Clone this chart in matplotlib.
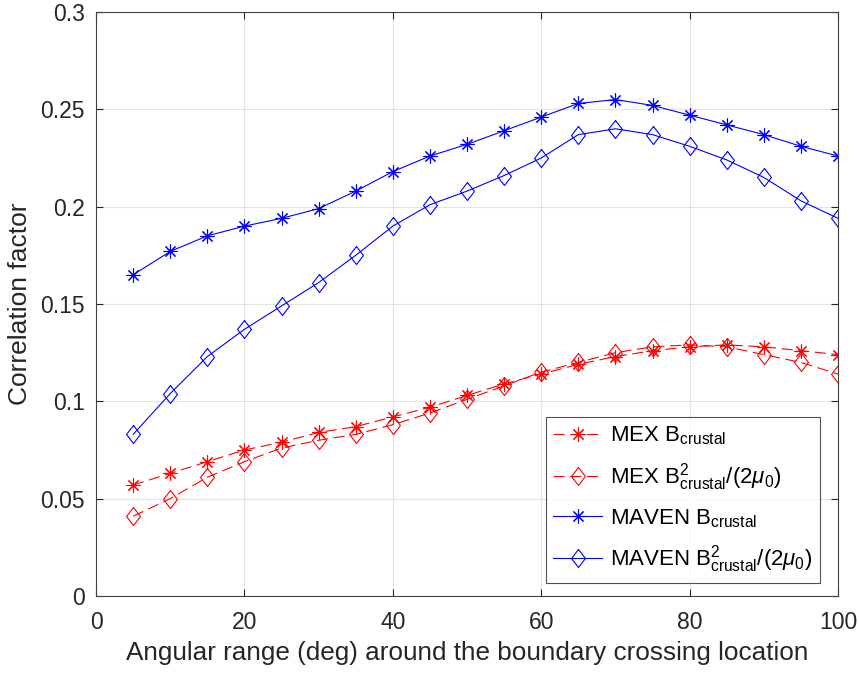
import numpy as np
import matplotlib
matplotlib.use('Agg')
import matplotlib.pyplot as plt

plt.rcParams['font.family'] = ['Liberation Sans', 'DejaVu Sans']
plt.rcParams['mathtext.fontset'] = 'custom'
plt.rcParams['mathtext.rm'] = 'Liberation Sans'
plt.rcParams['mathtext.it'] = 'Liberation Sans:italic'

# angular range (deg)
angle = [5, 10, 15, 20, 25, 30, 35, 40, 45, 50, 55, 60, 65, 70, 75, 80, 85, 90, 95, 100]

# correlation factors
mex_b = [0.057, 0.063, 0.069, 0.075, 0.079, 0.084, 0.087, 0.092, 0.097, 0.103,
         0.109, 0.114, 0.119, 0.123, 0.126, 0.128, 0.129, 0.128, 0.126, 0.124]
mex_b2 = [0.041, 0.050, 0.061, 0.069, 0.076, 0.080, 0.083, 0.088, 0.094, 0.101,
          0.108, 0.115, 0.120, 0.125, 0.128, 0.129, 0.128, 0.124, 0.120, 0.114]
maven_b = [0.165, 0.177, 0.185, 0.190, 0.194, 0.199, 0.208, 0.218, 0.226, 0.232,
           0.239, 0.246, 0.253, 0.255, 0.252, 0.247, 0.242, 0.237, 0.231, 0.226]
maven_b2 = [0.083, 0.104, 0.123, 0.137, 0.149, 0.161, 0.175, 0.190, 0.201, 0.208,
            0.216, 0.225, 0.237, 0.240, 0.237, 0.231, 0.224, 0.215, 0.203, 0.194]

labels = [r'MEX B$_{\mathrm{crustal}}$',
          r'MEX B$^{\mathrm{2}}_{\mathrm{crustal}}$/(2$\mathit{\mu}_{\mathrm{0}}$)',
          r'MAVEN B$_{\mathrm{crustal}}$',
          r'MAVEN B$^{\mathrm{2}}_{\mathrm{crustal}}$/(2$\mathit{\mu}_{\mathrm{0}}$)']

yticks = [0, 0.05, 0.1, 0.15, 0.2, 0.25, 0.3]
ytick_labels = ['0', '0.05', '0.1', '0.15', '0.2', '0.25', '0.3']
xticks = [0, 20, 40, 60, 80, 100]

# matlab-like markers: 8-arm asterisk and a tall diamond
star = (8, 2, 0)
diamond = [(0, 1), (0.77, 0), (0, -1), (-0.77, 0), (0, 1)]
dash = (0, (10, 5))

fig = plt.figure(figsize=(8.59, 6.73), dpi=100)
ax = fig.add_axes([0.1118, 0.1144, 0.8638, 0.8678])

ax.plot(angle, mex_b, color='red', ls=dash, lw=0.8, marker=star, ms=10, mew=0.8, label=labels[0])
ax.plot(angle, mex_b2, color='red', ls=dash, lw=0.8, marker=diamond, ms=13, mew=0.8,
        mfc='none', label=labels[1])
ax.plot(angle, maven_b, color='blue', ls='-', lw=0.8, marker=star, ms=10, mew=0.8, label=labels[2])
ax.plot(angle, maven_b2, color='blue', ls='-', lw=0.8, marker=diamond, ms=13, mew=0.8,
        mfc='none', label=labels[3])

ax.set_xlim(0, 100)
ax.set_ylim(0, 0.3)
ax.set_xticks(xticks)
ax.set_yticks(yticks)
ax.set_yticklabels(ytick_labels)
ax.grid(True, color='#e3e3e3', lw=0.8)
ax.set_axisbelow(True)
ax.tick_params(direction='in', top=True, right=True, length=5, labelsize=16.5,
               colors='#262626', labelcolor='#262626')
ax.tick_params(axis='x', pad=11)
ax.tick_params(axis='y', pad=8)
for sp in ax.spines.values():
    sp.set_color('#404040')
    sp.set_linewidth(0.8)

ax.set_xlabel('Angular range (deg) around the boundary crossing location', fontsize=18.8,
              color='#262626', labelpad=5)
ax.set_ylabel('Correlation factor', fontsize=19, color='#262626', labelpad=6)

leg = ax.legend(loc='lower right', bbox_to_anchor=(0.9757, 0.0223), borderaxespad=0,
                fontsize=16, frameon=True, fancybox=False, edgecolor='#262626',
                handlelength=2.2, handletextpad=0.35, labelspacing=0.62, borderpad=0.35)
leg.get_frame().set_linewidth(0.8)

fig.savefig('out.png', dpi=100)
